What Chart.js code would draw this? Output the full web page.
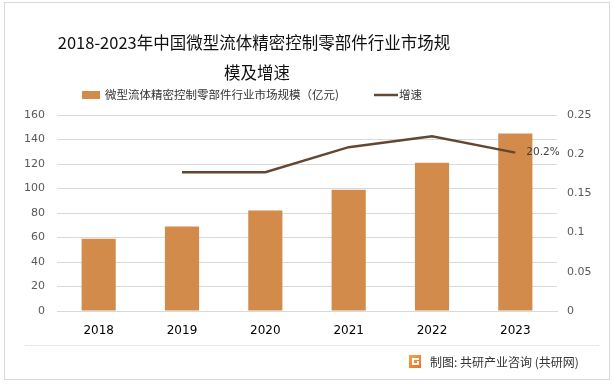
<!DOCTYPE html>
<html>
<head>
<meta charset="utf-8">
<script src="https://cdn.jsdelivr.net/npm/chart.js@4/dist/chart.umd.min.js"></script>
<style>
    html, body { margin: 0; padding: 0; background: #fff; }
    #wrap { width: 613px; height: 384px; position: relative; }
</style>
</head>
<body>
<div id="wrap"><canvas id="chartPasar"></canvas></div>
<script>
// data dari gambar
const years = ["2018", "2019", "2020", "2021", "2022", "2023"];
const marketSize = [59, 69, 82, 99, 121, 145];
const growthRate = [null, 0.177, 0.177, 0.209, 0.223, 0.202];
const leftTicks = [0, 20, 40, 60, 80, 100, 120, 140, 160];
const rightTicks = [0, 0.05, 0.1, 0.15, 0.2, 0.25];
const titleLines = ["2018-2023年中国微型流体精密控制零部件行业市场规", "模及增速"];
const seriesNames = ["微型流体精密控制零部件行业市场规模（亿元)", "增速"];

const fontCJK = "'Noto Sans CJK SC', 'Noto Sans', sans-serif";
const barColor = "#D38B4C";
const lineColor = "#654631";
const textColor = "#595959";

// judul + legenda (posisi mengikuti gambar, tidak di tengah)
const headerPlugin = {
    id: "header",
    afterDraw(chart) {
        const c = chart.ctx;
        const ds = chart.data.datasets;
        c.save();
        c.fillStyle = "#111";
        c.font = "16.5px " + fontCJK;
        c.textAlign = "center";
        c.textBaseline = "middle";
        c.fillText(titleLines[0], 254, 43);
        c.fillText(titleLines[1], 257, 73);

        c.font = "11.5px " + fontCJK;
        c.textAlign = "left";
        c.fillStyle = ds[0].backgroundColor;
        c.fillRect(82, 91, 18, 8);
        c.fillStyle = "#333";
        c.fillText(ds[0].label, 105, 95);
        c.strokeStyle = ds[1].borderColor;
        c.lineWidth = 2.5;
        c.beginPath();
        c.moveTo(374, 95);
        c.lineTo(398, 95);
        c.stroke();
        c.fillText(ds[1].label, 399, 95);
        c.restore();
    },
};

// bingkai, garis bawah dan sumber
const framePlugin = {
    id: "frame",
    beforeDraw(chart) {
        const c = chart.ctx;
        c.save();
        c.fillStyle = "#fff";
        c.fillRect(0, 0, chart.width, chart.height);
        c.restore();
    },
    afterDraw(chart) {
        const c = chart.ctx;
        c.save();
        c.strokeStyle = "#D9D9D9";
        c.lineWidth = 1;
        c.strokeRect(4.5, 2.5, 605, 377);
        c.strokeStyle = "#E8E8E8";
        c.beginPath();
        c.moveTo(25, 345.5);
        c.lineTo(599, 345.5);
        c.stroke();
        // logo kecil
        const g = c.createLinearGradient(409, 355, 421, 369);
        g.addColorStop(0, "#F7A541");
        g.addColorStop(1, "#EE6B2D");
        c.fillStyle = g;
        c.fillRect(409, 355, 12, 13);
        c.fillStyle = "#fff";
        c.fillRect(412, 358, 7, 2);
        c.fillRect(412, 358, 2, 7);
        c.fillRect(412, 363, 7, 2);
        c.fillRect(417, 361, 2, 4);
        c.fillStyle = "#333";
        c.font = "12px " + fontCJK;
        c.textAlign = "left";
        c.textBaseline = "middle";
        c.fillText("制图: 共研产业咨询 (共研网)", 430, 362);
        c.restore();
    },
};

// label 20.2% di titik terakhir
const lastLabelPlugin = {
    id: "lastLabel",
    afterDatasetsDraw(chart) {
        const meta = chart.getDatasetMeta(1);
        const idx = growthRate.length - 1;
        const pt = meta.data[idx];
        if (!pt) return;
        const c = chart.ctx;
        c.save();
        c.fillStyle = "#404040";
        c.font = "10.5px 'DejaVu Sans', sans-serif";
        c.textAlign = "left";
        c.textBaseline = "middle";
        c.fillText((growthRate[idx] * 100).toFixed(1) + "%", pt.x + 11, pt.y);
        c.restore();
    },
};

const ctx = document.getElementById("chartPasar").getContext("2d");
new Chart(ctx, {
    data: {
        labels: years,
        datasets: [
            {
                type: "bar",
                label: seriesNames[0],
                data: marketSize,
                backgroundColor: barColor,
                borderWidth: 0,
                yAxisID: "y",
                categoryPercentage: 1,
                barPercentage: 0.41,
                order: 2,
            },
            {
                type: "line",
                label: seriesNames[1],
                data: growthRate,
                borderColor: lineColor,
                backgroundColor: lineColor,
                borderWidth: 2.5,
                pointRadius: 0,
                tension: 0,
                yAxisID: "y1",
                order: 1,
            },
        ],
    },
    options: {
        responsive: true,
        maintainAspectRatio: false,
        animation: false,
        layout: { padding: { left: 0, right: 0, top: 115, bottom: 0 } },
        scales: {
            x: {
                grid: { display: false },
                border: { color: "#D9D9D9" },
                ticks: {
                    color: "#000",
                    padding: 5,
                    font: { size: 12, family: "'DejaVu Sans', sans-serif" },
                },
                afterFit(scale) { scale.height = 73; },
            },
            y: {
                position: "left",
                min: 0,
                max: 160,
                afterBuildTicks(scale) { scale.ticks = leftTicks.map((v) => ({ value: v })); },
                grid: { color: "#D9D9D9", drawTicks: false },
                border: { display: false },
                ticks: {
                    color: textColor,
                    padding: 12,
                    font: { size: 11, family: "'DejaVu Sans', sans-serif" },
                },
                afterFit(scale) { scale.width = 57; },
            },
            y1: {
                position: "right",
                min: 0,
                max: 0.25,
                afterBuildTicks(scale) { scale.ticks = rightTicks.map((v) => ({ value: v })); },
                grid: { display: false, drawTicks: false },
                border: { display: false },
                ticks: {
                    color: textColor,
                    padding: 10,
                    font: { size: 11, family: "'DejaVu Sans', sans-serif" },
                    callback: (v) => String(+v.toFixed(2)),
                },
                afterFit(scale) { scale.width = 56; },
            },
        },
        plugins: {
            title: { display: false },
            legend: { display: false },
            tooltip: { enabled: false },
        },
    },
    plugins: [framePlugin, headerPlugin, lastLabelPlugin],
});
</script>
</body>
</html>
